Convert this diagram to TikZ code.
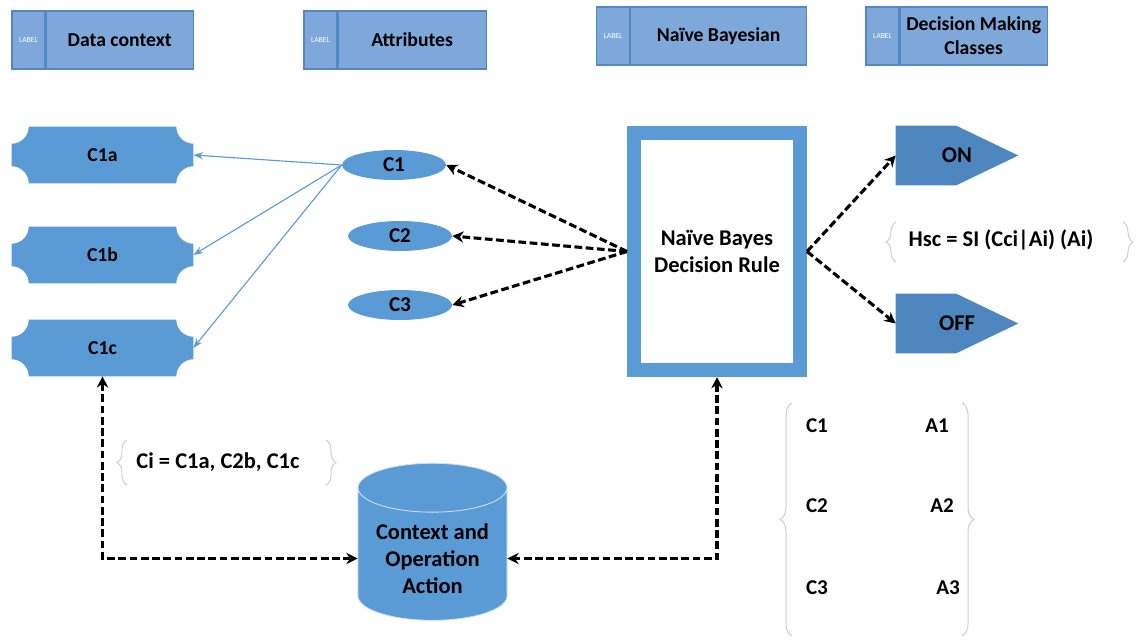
\documentclass[tikz,border=0pt]{standalone}
\usepackage{fontspec}
\setmainfont{Carlito}
\usetikzlibrary{arrows.meta,positioning,shapes.geometric,decorations.pathreplacing}
\pgfdeclarelayer{background}
\pgfsetlayers{background,main}
\definecolor{headfill}{RGB}{125,168,217}
\definecolor{headdraw}{RGB}{84,136,196}
\definecolor{mainblue}{RGB}{91,155,213}
\definecolor{darkblue}{RGB}{78,134,192}
\definecolor{bracegray}{RGB}{205,205,205}
\tikzset{
  head box/.style={draw=headdraw,fill=headfill,line width=0.8pt,minimum height=1.45cm,inner sep=1pt,align=center,font=\fontsize{14}{17}\selectfont\bfseries},
  head tag/.style={draw=headdraw,fill=headfill,line width=0.8pt,minimum height=1.45cm,minimum width=0.825cm,inner sep=1pt,text=white,font=\fontsize{5.5}{6}\selectfont},
  tag box/.style={minimum width=4.525cm,minimum height=1.4cm,inner sep=0pt,font=\fontsize{14}{17}\selectfont\bfseries},
  class oval/.style={ellipse,fill=mainblue,minimum width=2.6cm,minimum height=0.75cm,inner sep=0pt,font=\fontsize{15}{18}\selectfont\bfseries},
  rule box/.style={draw=mainblue,line width=0.35cm,fill=white,minimum width=4.15cm,minimum height=5.925cm,align=center,font=\fontsize{16}{19}\selectfont\bfseries},
  state box/.style={minimum width=3.05cm,minimum height=1.475cm,inner sep=0pt,font=\fontsize{16}{19}\selectfont\bfseries},
  store/.style={cylinder,shape border rotate=90,aspect=0.4,fill=mainblue,draw=white!70!mainblue,line width=0.6pt,minimum width=3.725cm,minimum height=3.925cm,align=center,font=\fontsize{16}{19}\selectfont\bfseries},
  formula/.style={inner sep=1pt,font=\fontsize{16}{19}\selectfont\bfseries},
  cell/.style={inner sep=1pt,font=\fontsize{15}{18}\selectfont\bfseries},
  soft brace/.style={draw=bracegray,line width=0.7pt,decorate,decoration={brace,amplitude=#1}},
  link line/.style={draw=mainblue,line width=0.8pt,-{Stealth[length=7pt,width=5pt]}},
  flow line/.style={draw=black,line width=2.2pt,dash pattern=on 5.5pt off 2.5pt,-{Stealth[length=8pt,width=8pt]}},
  flow both/.style={draw=black,line width=2.2pt,dash pattern=on 5.5pt off 2.5pt,{Stealth[length=8pt,width=8pt]}-{Stealth[length=8pt,width=8pt]}},
}

\begin{document}
\begin{tikzpicture}[x=0.025cm,y=0.025cm]
\useasboundingbox (0,0) rectangle (1136,639);
% header row
\foreach \n/\x/\y/\w/\t in {hda/28.5/599/3.675/Data context, hdb/320.5/599/3.7/Attributes, hdc/613/603/4.4/Naïve Bayesian, hdd/882.5/603/3.675/{Decision Making\\Classes}} {
  \node[head tag] (\n tag) at (\x,\y) {LABEL};
  \node[head box,minimum width=\w cm,right=0pt of \n tag] (\n) {\t};
}
% data context
\node[tag box] (c1a) at (102.5,484) {C1a};
\node[tag box] (c1b) at (102.5,384) {C1b};
\node[tag box] (c1c) at (102.5,291) {C1c};
% attributes
\node[class oval] (c1) at (394,474) {C1};
\node[class oval] (c2) at (400,403) {C2};
\node[class oval] (c3) at (400,334) {C3};
% rule and classes
\node[rule box] (rule) at (717,387.5) {Naïve Bayes\\Decision Rule};
\node[state box] (on) at (957,483.5) {ON};
\node[state box] (off) at (957,315.5) {OFF};
\node[store] (db) at (432.5,80.5) {Context and\\Operation\\Action};
% formulas
\node[formula] (hsc) at (1001,399) {Hsc = SI (Cci|Ai) (Ai)};
\node[formula] (ci) at (218,177) {Ci = C1a, C2b, C1c};
\node[cell] (m1c) at (817,213) {C1};
\node[cell] (m1a) at (937,213) {A1};
\node[cell] (m2c) at (817,133) {C2};
\node[cell] (m2a) at (942,133) {A2};
\node[cell] (m3c) at (817,51.5) {C3};
\node[cell] (m3a) at (948,51.5) {A3};
\draw[soft brace=0.25cm] (896,377) -- (896,417);
\draw[soft brace=0.25cm] (1123,417) -- (1123,377);
\draw[soft brace=0.25cm] (127,154) -- (127,199);
\draw[soft brace=0.25cm] (326,199) -- (326,154);
\draw[soft brace=0.3cm] (792,3) -- (792,236);
\draw[soft brace=0.3cm] (962,236) -- (962,3);
% shapes behind the text
\begin{pgfonlayer}{background}
\foreach \n in {c1a,c1b,c1c} {
  \fill[mainblue] ([xshift=0.425cm]\n.north west) -- ([xshift=-0.425cm]\n.north east)
    arc[start angle=180,end angle=270,radius=0.425cm] -- ([yshift=0.425cm]\n.south east)
    arc[start angle=90,end angle=180,radius=0.425cm] -- ([xshift=0.425cm]\n.south west)
    arc[start angle=0,end angle=90,radius=0.425cm] -- ([yshift=-0.425cm]\n.north west)
    arc[start angle=270,end angle=360,radius=0.425cm] -- cycle;
}
\foreach \n in {on,off} {
  \fill[darkblue] (\n.north west) -- ([xshift=-1.55cm]\n.north east) -- (\n.east)
    -- ([xshift=-1.55cm]\n.south east) -- (\n.south west) -- cycle;
}
\end{pgfonlayer}
% connectors
\foreach \t in {c1a,c1b,c1c} \draw[link line] (c1.west) -- (\t.east);
\foreach \t in {c1,c2,c3} \draw[flow line] (rule.west) -- (\t.east);
\draw[flow line] (rule.east) -- (on.west);
\draw[flow line] (rule.east) -- (off.west);
\draw[flow both] (c1c.south) |- (db.west);
\draw[flow both] (rule.south) |- (db.east);
\end{tikzpicture}
\end{document}
